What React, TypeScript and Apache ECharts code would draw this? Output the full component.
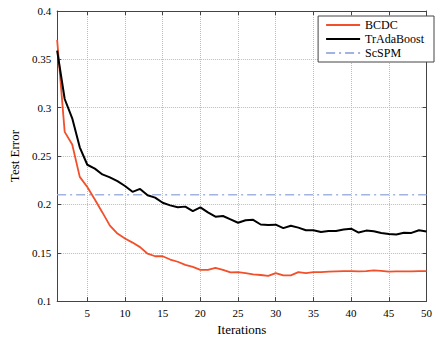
import React, { useEffect, useRef } from "react";
import * as echarts from "echarts";

const iterations = Array.from({ length: 50 }, (_, i) => i + 1);
const bcdc = [
  0.370, 0.275, 0.262, 0.2285, 0.218, 0.205, 0.1917, 0.178, 0.1698, 0.1648,
  0.1605, 0.1558, 0.149, 0.1464, 0.1464, 0.143, 0.1407, 0.1374, 0.1353, 0.1323,
  0.1323, 0.1344, 0.1323, 0.1297, 0.130, 0.1289, 0.1276, 0.127, 0.126, 0.129,
  0.1266, 0.1266, 0.130, 0.129, 0.130, 0.130, 0.1304, 0.1307, 0.131, 0.131,
  0.1307, 0.131, 0.1317, 0.1313, 0.1304, 0.1307, 0.1307, 0.1307, 0.131, 0.131,
];
const trAdaBoost = [
  0.359, 0.309, 0.289, 0.259, 0.241, 0.237, 0.231, 0.228, 0.224, 0.219,
  0.213, 0.216, 0.2095, 0.207, 0.2017, 0.199, 0.197, 0.1977, 0.193, 0.197,
  0.1917, 0.1873, 0.188, 0.1846, 0.181, 0.1836, 0.184, 0.1792, 0.1786, 0.179,
  0.1755, 0.178, 0.176, 0.1732, 0.1732, 0.1715, 0.1725, 0.1725, 0.174, 0.1749,
  0.1709, 0.1729, 0.1722, 0.1705, 0.1695, 0.1688, 0.1706, 0.1705, 0.1732, 0.172,
];
const scspmValue = 0.21;
const xTicks = [5, 10, 15, 20, 25, 30, 35, 40, 45, 50];

const FONT = "Liberation Serif";

export default function App() {
  const ref = useRef<HTMLDivElement>(null);
  useEffect(() => {
    if (!ref.current) return;
    const chart = echarts.init(ref.current, null, { renderer: "svg" });
    const axisLine = { show: true, lineStyle: { color: "#444", width: 1 } };
    const split = { show: true, lineStyle: { color: "#bbb", type: "dotted", width: 1 } };
    chart.setOption({
      animation: false,
      backgroundColor: "#fff",
      textStyle: { fontFamily: FONT },
      grid: { left: 52, top: 11, right: 4, bottom: 31, containLabel: false },
      legend: {
        orient: "vertical",
        right: 1,
        top: 16,
        backgroundColor: "#fff",
        borderColor: "#444",
        borderWidth: 1,
        borderRadius: 0,
        padding: [3, 10, 3, 7],
        itemGap: 2,
        itemWidth: 34,
        itemHeight: 10,
        itemStyle: { opacity: 0 },
        textStyle: { fontFamily: FONT, fontSize: 12, color: "#000" },
        data: ["BCDC", "TrAdaBoost", "ScSPM"],
      },
      xAxis: [
        {
          type: "value",
          min: 1,
          max: 50,
          name: "Iterations",
          nameLocation: "middle",
          nameGap: 19,
          nameTextStyle: { fontFamily: FONT, fontSize: 13, color: "#000" },
          axisLine,
          axisTick: { show: true, inside: true, length: 4, customValues: xTicks, lineStyle: { color: "#444" } },
          axisLabel: { customValues: xTicks, fontFamily: FONT, fontSize: 11, color: "#000", margin: 6 },
          splitLine: split,
        },
        {
          type: "value",
          position: "top",
          min: 1,
          max: 50,
          axisLine,
          axisTick: { show: true, inside: true, length: 4, customValues: xTicks, lineStyle: { color: "#444" } },
          axisLabel: { show: false, customValues: xTicks },
          splitLine: { show: false },
        },
      ],
      yAxis: [
        {
          type: "value",
          min: 0.1,
          max: 0.4,
          interval: 0.05,
          name: "Test Error",
          nameLocation: "middle",
          nameGap: 36,
          nameTextStyle: { fontFamily: FONT, fontSize: 13, color: "#000" },
          axisLine,
          axisTick: { show: true, inside: true, length: 4, lineStyle: { color: "#444" } },
          axisLabel: { fontFamily: FONT, fontSize: 11, color: "#000", margin: 6 },
          splitLine: split,
        },
        {
          type: "value",
          position: "right",
          min: 0.1,
          max: 0.4,
          interval: 0.05,
          axisLine,
          axisTick: { show: true, inside: true, length: 4, lineStyle: { color: "#444" } },
          axisLabel: { show: false },
          splitLine: { show: false },
        },
      ],
      series: [
        {
          name: "BCDC",
          type: "line",
          symbol: "none",
          data: iterations.map((x, i) => [x, bcdc[i]]),
          lineStyle: { color: "#f2502a", width: 1.8 },
          itemStyle: { color: "#f2502a" },
          z: 3,
        },
        {
          name: "TrAdaBoost",
          type: "line",
          symbol: "none",
          data: iterations.map((x, i) => [x, trAdaBoost[i]]),
          lineStyle: { color: "#000", width: 2 },
          itemStyle: { color: "#000" },
          z: 3,
        },
        {
          name: "ScSPM",
          type: "line",
          symbol: "none",
          data: [
            [iterations[0], scspmValue],
            [iterations[iterations.length - 1], scspmValue],
          ],
          lineStyle: { color: "#a3b3e0", width: 1.3, type: [9, 4, 2, 4] },
          itemStyle: { color: "#a3b3e0" },
          z: 2,
        },
      ],
    });
    return () => chart.dispose();
  }, []);
  return <div ref={ref} style={{ width: 435, height: 341, position: "absolute", left: 0, top: 0 }} />;
}
